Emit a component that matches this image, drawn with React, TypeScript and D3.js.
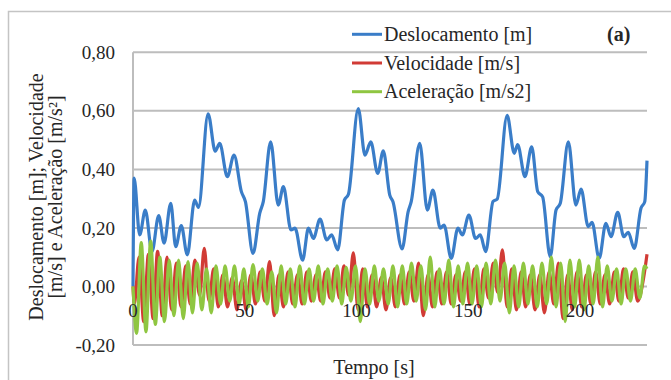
import { useEffect, useRef } from 'react'
import * as d3 from 'd3'

type Pt = [number, number]

// Deslocamento [m] (time s, value)
const deslocamento: Pt[] = [
  [0, 0.0], [0.5, 0.37], [3.0, 0.176], [5.5, 0.261], [8.5, 0.119], [11.5, 0.242],
  [13.9, 0.148], [16.9, 0.284], [19.1, 0.136], [21.6, 0.208], [24.3, 0.108], [27.6, 0.295],
  [29.3, 0.27], [33.6, 0.59], [36.8, 0.462], [38.8, 0.489], [42.2, 0.375], [45.2, 0.449],
  [48.5, 0.324], [50.3, 0.29], [53.7, 0.113], [56.7, 0.25], [58.3, 0.29], [61.6, 0.494],
  [65.0, 0.278], [67.3, 0.341], [70.7, 0.193], [72.5, 0.199], [75.9, 0.09], [78.5, 0.199],
  [80.7, 0.164], [83.7, 0.23], [86.7, 0.159], [88.9, 0.176], [91.6, 0.125], [94.6, 0.295],
  [96.4, 0.315], [100.8, 0.608], [103.8, 0.449], [106.4, 0.494], [109.5, 0.386], [112.0, 0.463],
  [114.9, 0.312], [116.3, 0.29], [120.4, 0.128], [123.1, 0.255], [124.5, 0.29], [128.3, 0.489],
  [131.7, 0.261], [134.2, 0.329], [137.5, 0.199], [139.2, 0.21], [142.4, 0.096], [145.4, 0.199],
  [147.4, 0.176], [150.3, 0.244], [153.3, 0.164], [155.4, 0.176], [157.8, 0.119], [161.1, 0.29],
  [163.0, 0.299], [167.4, 0.585], [170.6, 0.455], [172.1, 0.485], [175.4, 0.375], [178.4, 0.477],
  [181.1, 0.324], [183.3, 0.306], [186.7, 0.102], [189.3, 0.261], [191.2, 0.284], [194.8, 0.494],
  [198.2, 0.278], [200.5, 0.333], [203.7, 0.204], [205.4, 0.219], [208.6, 0.096], [211.6, 0.216],
  [213.9, 0.17], [216.9, 0.253], [219.6, 0.17], [221.6, 0.185], [224.3, 0.13], [227.3, 0.267],
  [229.0, 0.29], [230.0, 0.43],
]

// Velocidade [m/s]
const velocidade: Pt[] = [
  [0, 0.0], [0.6, -0.06], [2.7, 0.1], [4.8, -0.12], [6.9, 0.11], [9.0, -0.11], [11.0, 0.12],
  [13.1, -0.1], [15.2, 0.1], [17.3, -0.08], [19.4, 0.08], [21.5, -0.07], [23.6, 0.07],
  [25.6, -0.06], [27.7, 0.09], [29.8, -0.03], [31.9, 0.13], [34.0, -0.05], [36.1, 0.06],
  [38.2, -0.07], [40.2, 0.04], [42.3, -0.07], [44.4, 0.03], [46.5, -0.08], [48.6, 0.02],
  [50.6, -0.08], [52.7, 0.04], [54.8, -0.06], [56.9, 0.05], [59.0, -0.05], [61.1, 0.085],
  [63.2, -0.1], [65.3, 0.04], [67.3, -0.07], [69.4, 0.05], [71.5, -0.06], [73.6, 0.04],
  [75.7, -0.06], [77.8, 0.05], [79.8, -0.05], [81.9, 0.04], [84.0, -0.05], [86.1, 0.05],
  [88.2, -0.04], [90.3, 0.06], [92.4, -0.04], [94.4, 0.07], [96.5, -0.03], [98.6, 0.115],
  [100.7, -0.08], [102.8, 0.06], [104.9, -0.07], [107.0, 0.04], [109.0, -0.07], [111.1, 0.03],
  [113.2, -0.08], [115.3, 0.03], [117.4, -0.07], [119.5, 0.04], [121.5, -0.06], [123.6, 0.05],
  [125.7, -0.05], [127.8, 0.08], [129.9, -0.1], [132.0, 0.04], [134.0, -0.07], [136.1, 0.05],
  [138.2, -0.06], [140.3, 0.05], [142.4, -0.06], [144.5, 0.04], [146.6, -0.05], [148.7, 0.05],
  [150.7, -0.06], [152.8, 0.06], [154.9, -0.07], [157.0, 0.06], [159.1, -0.04], [161.2, 0.08],
  [163.2, -0.02], [165.3, 0.125], [167.4, -0.07], [169.5, 0.06], [171.6, -0.08], [173.7, 0.05],
  [175.7, -0.07], [177.8, 0.04], [179.9, -0.08], [182.0, 0.04], [184.1, -0.09], [186.2, 0.05],
  [188.3, -0.06], [190.4, 0.08], [192.4, -0.11], [194.5, 0.04], [196.6, -0.08], [198.7, 0.05],
  [200.8, -0.07], [202.9, 0.04], [204.9, -0.06], [207.0, 0.05], [209.1, -0.06], [211.2, 0.04],
  [213.3, -0.06], [215.4, 0.05], [217.4, -0.05], [219.5, 0.06], [221.6, -0.04], [223.7, 0.05],
  [225.8, -0.05], [228.5, 0.03], [230.0, 0.11],
]

// Aceleração [m/s2]
const aceleracao: Pt[] = [
  [0, 0.0], [1.6, -0.16], [3.7, 0.15], [5.8, -0.155], [7.9, 0.155], [10.0, -0.13], [12.0, 0.1],
  [14.1, -0.12], [16.2, 0.09], [18.3, -0.1], [20.4, 0.09], [22.5, -0.11], [24.6, 0.085],
  [26.6, -0.09], [28.7, 0.08], [30.8, -0.08], [32.9, 0.06], [35.0, -0.09], [37.1, 0.07],
  [39.2, -0.06], [41.2, 0.07], [43.3, -0.05], [45.4, 0.07], [47.5, -0.06], [49.6, 0.06],
  [51.6, -0.07], [53.7, 0.075], [55.8, -0.05], [57.9, 0.06], [60.0, -0.06], [62.1, 0.05],
  [64.2, -0.09], [66.3, 0.07], [68.3, -0.06], [70.4, 0.06], [72.5, -0.07], [74.6, 0.07],
  [76.7, -0.06], [78.8, 0.06], [80.8, -0.05], [82.9, 0.07], [85.0, -0.06], [87.1, 0.06],
  [89.2, -0.05], [91.3, 0.07], [93.4, -0.06], [95.4, 0.065], [97.5, -0.05], [99.6, 0.07],
  [101.7, -0.12], [103.8, 0.06], [105.9, -0.06], [108.0, 0.07], [110.0, -0.05], [112.1, 0.06],
  [114.2, -0.06], [116.3, 0.07], [118.4, -0.07], [120.5, 0.07], [122.5, -0.06], [124.6, 0.08],
  [126.7, -0.05], [128.8, 0.07], [130.9, -0.08], [133.0, 0.1], [135.0, -0.07], [137.1, 0.06],
  [139.2, -0.06], [141.3, 0.09], [143.4, -0.07], [145.5, 0.07], [147.6, -0.06], [149.7, 0.08],
  [151.7, -0.06], [153.8, 0.07], [155.9, -0.07], [158.0, 0.08], [160.1, -0.06], [162.2, 0.09],
  [164.2, -0.05], [166.3, 0.08], [168.4, -0.09], [170.5, 0.07], [172.6, -0.07], [174.7, 0.08],
  [176.7, -0.06], [178.8, 0.07], [180.9, -0.07], [183.0, 0.08], [185.1, -0.06], [187.2, 0.1],
  [189.3, -0.07], [191.4, 0.08], [193.4, -0.12], [195.5, 0.09], [197.6, -0.07], [199.7, 0.09],
  [201.8, -0.08], [203.9, 0.07], [205.9, -0.06], [208.0, 0.1], [210.1, -0.07], [212.2, 0.07],
  [214.3, -0.05], [216.4, 0.06], [218.4, -0.06], [220.5, 0.06], [222.6, -0.05], [224.7, 0.06],
  [226.8, -0.04], [228.9, 0.07], [230.0, 0.06],
]

const yTicks = [-0.2, 0, 0.2, 0.4, 0.6, 0.8]
const xTicks = [0, 50, 100, 150, 200]

const series = [
  { name: 'Deslocamento [m]', data: deslocamento, color: '#3a7dc8', width: 3.2 },
  { name: 'Velocidade [m/s]', data: velocidade, color: '#d13b35', width: 3.2 },
  { name: 'Aceleração [m/s2]', data: aceleracao, color: '#8fc641', width: 3.2 },
]

export default function App() {
  const svgRef = useRef<SVGSVGElement>(null)

  useEffect(() => {
    if (!svgRef.current) return
    const svg = d3.select(svgRef.current)
    svg.selectAll('*').remove()

    const width = 671
    const height = 380
    const plot = { left: 133, right: 647, top: 52.3, bottom: 345 }
    const font = '"Liberation Serif", "Times New Roman", serif'
    const textColor = '#262626'

    svg.attr('width', width).attr('height', height)

    // outer frame (cropped on the right and bottom)
    svg.append('rect')
      .attr('x', 8.5).attr('y', 11.5)
      .attr('width', 700).attr('height', 400)
      .attr('fill', 'white')
      .attr('stroke', '#c4c4c4')
      .attr('stroke-width', 1.5)

    const x = d3.scaleLinear().domain([0, 230]).range([plot.left, plot.right])
    const y = d3.scaleLinear().domain([-0.2, 0.8]).range([plot.bottom, plot.top])

    // gridlines
    svg.append('g')
      .selectAll('line')
      .data(yTicks)
      .join('line')
      .attr('x1', plot.left).attr('x2', plot.right)
      .attr('y1', (d) => y(d)).attr('y2', (d) => y(d))
      .attr('stroke', '#bdbdbd')
      .attr('stroke-width', 2)

    // vertical axis line
    svg.append('line')
      .attr('x1', plot.left).attr('x2', plot.left)
      .attr('y1', plot.top).attr('y2', plot.bottom)
      .attr('stroke', '#bdbdbd')
      .attr('stroke-width', 2)

    // y tick labels
    const fmt = (d: number) => d.toFixed(2).replace('.', ',')
    svg.append('g')
      .selectAll('text')
      .data(yTicks)
      .join('text')
      .attr('x', 115)
      .attr('y', (d) => y(d))
      .attr('dy', '0.35em')
      .attr('text-anchor', 'end')
      .attr('font-family', font)
      .attr('font-size', 19)
      .attr('fill', textColor)
      .text((d) => (d === 0 ? '0,00' : fmt(d)))

    // lines
    const line = d3.line<Pt>()
      .x((d) => x(d[0]))
      .y((d) => y(d[1]))
      .curve(d3.curveMonotoneX)

    series.forEach((s) => {
      svg.append('path')
        .datum(s.data)
        .attr('fill', 'none')
        .attr('stroke', s.color)
        .attr('stroke-width', s.width)
        .attr('stroke-linejoin', 'round')
        .attr('d', line)
    })

    // x tick labels sit at the zero line (Excel crossing)
    svg.append('g')
      .selectAll('text')
      .data(xTicks)
      .join('text')
      .attr('x', (d) => x(d))
      .attr('y', y(0) + 31)
      .attr('text-anchor', 'middle')
      .attr('font-family', font)
      .attr('font-size', 19)
      .attr('fill', textColor)
      .text((d) => d)

    // axis titles
    svg.append('text')
      .attr('x', 374).attr('y', 374)
      .attr('text-anchor', 'middle')
      .attr('font-family', font)
      .attr('font-size', 20)
      .attr('fill', textColor)
      .text('Tempo [s]')

    const yTitle = svg.append('text')
      .attr('transform', 'translate(0,197) rotate(-90)')
      .attr('text-anchor', 'middle')
      .attr('font-family', font)
      .attr('font-size', 20)
      .attr('fill', textColor)
    yTitle.append('tspan').attr('x', 0).attr('y', 43).text('Deslocamento [m]; Velocidade')
    yTitle.append('tspan').attr('x', 0).attr('y', 61.5).text('[m/s] e Aceleração [m/s²]')

    // legend
    const legend = svg.append('g')
    series.forEach((s, i) => {
      const ly = 34.3 + i * 28.7
      legend.append('line')
        .attr('x1', 352).attr('x2', 382)
        .attr('y1', ly).attr('y2', ly)
        .attr('stroke', s.color)
        .attr('stroke-width', 3)
      legend.append('text')
        .attr('x', 384).attr('y', ly)
        .attr('dy', '0.33em')
        .attr('font-family', font)
        .attr('font-size', 20)
        .attr('fill', textColor)
        .text(s.name)
    })

    svg.append('text')
      .attr('x', 607).attr('y', 41)
      .attr('font-family', font)
      .attr('font-size', 20)
      .attr('font-weight', 'bold')
      .attr('fill', textColor)
      .text('(a)')
  }, [])

  return (
    <div style={{ position: 'fixed', left: 0, top: 0 }}>
      <svg ref={svgRef}></svg>
    </div>
  )
}
